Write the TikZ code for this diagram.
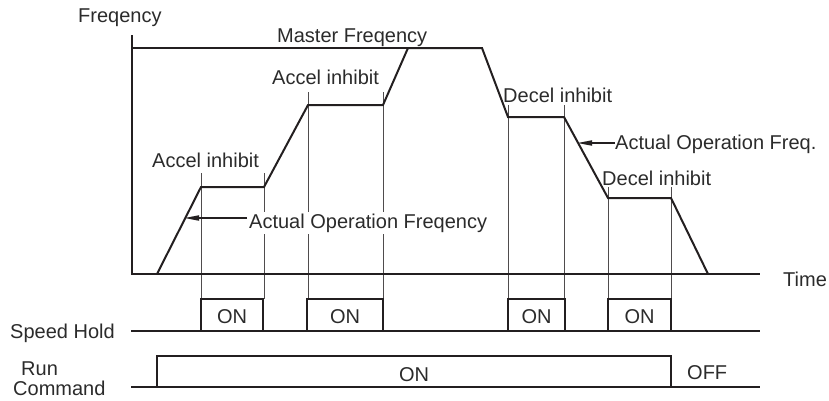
\documentclass[tikz,border=0pt]{standalone}
\usepackage{fontspec}
\setmainfont{Liberation Sans}
\usetikzlibrary{arrows.meta}
\definecolor{ink}{HTML}{231F20}
\definecolor{txt}{HTML}{2B2B2B}
\begin{document}
\begin{tikzpicture}[x=1pt,y=-1pt,
  font=\fontsize{20}{24}\selectfont,
  lbl/.style={inner sep=0pt, anchor=base west, text=txt},
  mainln/.style={draw=ink, line width=2pt, line join=miter},
  guide/.style={draw=ink!80, line width=0.9pt},
  boxln/.style={draw=ink, line width=1.8pt},
  arr/.style={draw=ink, line width=1.8pt, -{Triangle[length=15pt,width=5pt]}}]
\useasboundingbox (0,0) rectangle (829,400);

% guide lines
\foreach \gx/\gy in {201/173,264/173,308/92,383/92,508/105,564/105,608/187,671/187}
  \draw[guide] (\gx,\gy) -- (\gx,299);

% axes
\draw[mainln] (132,35) -- (132,274) -- (760,274);
% master frequency
\draw[mainln] (132,48) -- (408,48);
% actual frequency curve
\draw[mainln] (157,274) -- (201,187) -- (264,187) -- (308,105) -- (383,105)
  -- (408,48) -- (482,48) -- (508,117) -- (564,117) -- (608,198) -- (671,198) -- (708,274);

% labels
\node[lbl] (yl) at (78,22) {Freqency};
\node[lbl] (mf) at (277,42) {Master Freqency};
\node[lbl] (ai1) at (152,167) {Accel inhibit};
\node[lbl] (ai2) at (272,84) {Accel inhibit};
\node[lbl] (di1) at (503,102) {Decel inhibit};
\node[lbl] (di2) at (602,185) {Decel inhibit};
\node[lbl] (tl) at (783,286) {Time};
\node[lbl, fill=white, inner sep=2pt] (aof) at (247,228) {Actual Operation Freqency};
\node[lbl] (aof2) at (615,149) {Actual Operation Freq.};
\coordinate (r1) at (184,218);
\coordinate (r2) at (577,143);
\draw[arr] (aof.west |- r1) -- (r1);
\draw[arr] (aof2.west |- r2) -- (r2);

% speed hold
\draw[boxln] (131,331) -- (760,331);
\foreach \a/\b [count=\i] in {201/263,307/383,508/565,608/671}{
  \draw[boxln] (\a,331) -- (\a,299) -- (\b,299) -- (\b,331);
  \node[text=txt, inner sep=0pt, anchor=base] (on\i) at ({(\a+\b)/2},323) {ON};
}
\node[lbl] (sh) at (10,338) {Speed Hold};

% run command
\draw[boxln] (131,387) -- (760,387);
\draw[boxln] (157,387) -- (157,356) -- (671,356) -- (671,387);
\node[text=txt, inner sep=0pt, anchor=base] (ron) at (414,381) {ON};
\node[lbl] (roff) at (687,379) {OFF};
\node[lbl] (rc1) at (21,375) {Run};
\node[lbl] (rc2) at (13,395) {Command};
\end{tikzpicture}
\end{document}
